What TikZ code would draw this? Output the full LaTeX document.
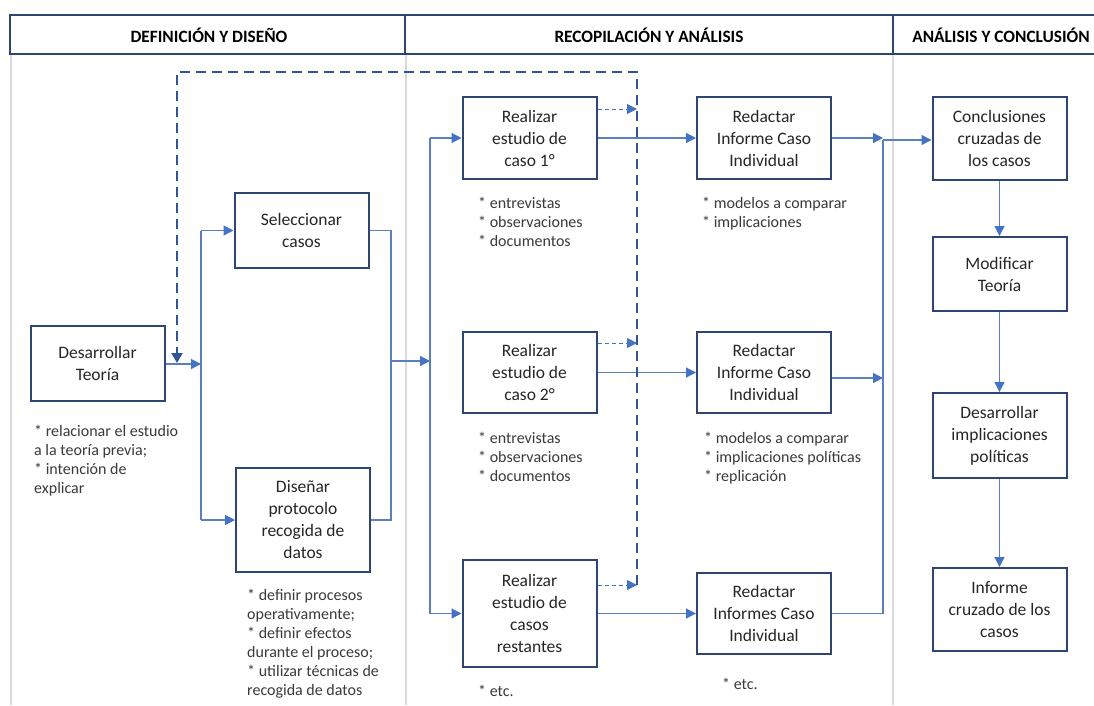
\documentclass[tikz,border=0pt]{standalone}
\usepackage{fontspec}
\setmainfont{Carlito}
\usetikzlibrary{arrows.meta}

\definecolor{navy}{HTML}{2E4472}
\definecolor{flowblue}{HTML}{5A7EC0}
\definecolor{tipblue}{HTML}{4472C4}
\definecolor{dashblue}{HTML}{2F5597}
\definecolor{colgray}{HTML}{D9D9D9}
\definecolor{boxtext}{HTML}{262626}
\definecolor{notetext}{HTML}{3A3A3A}

\begin{document}
\begin{tikzpicture}[x=1pt,y=-1pt,
  box/.style={draw=navy,line width=2pt,fill=white,align=center,text=boxtext,
    font=\fontsize{17.5}{22}\selectfont,inner sep=0pt,minimum width=134pt},
  flow/.style={draw=flowblue,line width=1.2pt},
  flowarrow/.style={flow,-{Triangle[length=10pt,width=10pt,color=tipblue]}},
  note/.style={anchor=north west,align=left,inner sep=0pt,text=notetext,
    font=\fontsize{16}{19}\selectfont},
  header/.style={font=\bfseries\fontsize{17.3}{20}\selectfont,text=black,inner sep=0pt},
  loopline/.style={draw=dashblue,line width=2.2pt,dash pattern=on 10pt off 6pt},
  feedback/.style={draw=tipblue,line width=1pt,dash pattern=on 4pt off 3pt,
    -{Triangle[length=10pt,width=10pt]}}]

% page
\fill[white] (0,0) rectangle (1094,705);
\useasboundingbox (0,0) rectangle (1094,705);

% column guides
\draw[colgray,line width=2.5pt] (11,54) -- (11,705);
\draw[colgray,line width=2.5pt] (406,54) -- (406,705);
\draw[colgray,line width=2.5pt] (893,54) -- (893,705);

% header band
\draw[navy,line width=2.5pt] (1094,15) -- (10,15) -- (10,54) -- (1094,54);
\draw[navy,line width=2.5pt] (405,15) -- (405,54);
\draw[navy,line width=2.5pt] (893,15) -- (893,54);
\node[header] (h1) at (209,35) {DEFINICIÓN Y DISEÑO};
\node[header] (h2) at (649,35) {RECOPILACIÓN Y ANÁLISIS};
\node[header] (h3) at (1001,35) {ANÁLISIS Y CONCLUSIÓN};

% process boxes
\node[box,minimum height=75pt] (T)  at (97.5,363.5) {Desarrollar\\Teoría};
\node[box,minimum height=75pt] (S)  at (301.5,230.5) {Seleccionar\\casos};
\node[box,minimum height=104pt] (Dp) at (303,520) {Diseñar\\protocolo\\recogida de\\datos};
\node[box,minimum height=82pt] (R1) at (529.5,138) {Realizar\\estudio de\\caso 1°};
\node[box,minimum height=81pt] (R2) at (529.5,372.5) {Realizar\\estudio de\\caso 2°};
\node[box,minimum height=107pt] (R3) at (529.5,613.5) {Realizar\\estudio de\\casos\\restantes};
\node[box,minimum height=82pt] (D1) at (764,138) {Redactar\\Informe Caso\\Individual};
\node[box,minimum height=81pt] (D2) at (764,372.5) {Redactar\\Informe Caso\\Individual};
\node[box,minimum height=81pt] (D3) at (764,613.5) {Redactar\\Informes Caso\\Individual};
\node[box,minimum height=83pt] (C1) at (999.5,138.5) {Conclusiones\\cruzadas de\\los casos};
\node[box,minimum height=74pt] (C2) at (999.5,274) {Modificar\\Teoría};
\node[box,minimum height=85pt] (C3) at (999.5,435.5) {Desarrollar\\implicaciones\\políticas};
\node[box,minimum height=83pt] (C4) at (999.5,609.5) {Informe\\cruzado de los\\casos};

% notes under the boxes
\node[note] (nT)  at (34,425) {* relacionar el estudio\\a la teoría previa;\\* intención de\\explicar};
\node[note] (nDp) at (247,589) {* definir procesos\\operativamente;\\* definir efectos\\durante el proceso;\\* utilizar técnicas de\\recogida de datos};
\node[note] (nR1) at (478,197) {* entrevistas\\* observaciones\\* documentos};
\node[note] (nR2) at (478,432) {* entrevistas\\* observaciones\\* documentos};
\node[note] (nR3) at (478,685) {* etc.};
\node[note] (nD1) at (702,197) {* modelos a comparar\\* implicaciones};
\node[note] (nD2) at (704,432) {* modelos a comparar\\* implicaciones políticas\\* replicación};
\node[note] (nD3) at (722,678) {* etc.};

% junction points
\coordinate (j1) at (201,364);
\coordinate (j2) at (391,361);
\coordinate (j3) at (430,361);
\coordinate (j4) at (883,140);

% definition and design
\draw[flowarrow] (T.east |- j1) -- (j1);
\draw[flow] (j1 |- S.west) -- (j1 |- Dp.west);
\draw[flowarrow] (j1 |- S.west) -- (S.west);
\draw[flowarrow] (j1 |- Dp.west) -- (Dp.west);
\draw[flow] (S.east) -- (S.east -| j2) -- (Dp.east -| j2) -- (Dp.east);
\draw[flowarrow] (j2) -- (j3);

% case studies
\draw[flow] (j3 |- R1.west) -- (j3 |- R3.west);
\draw[flowarrow] (j3 |- R1.west) -- (R1.west);
\draw[flowarrow] (j3 |- R3.west) -- (R3.west);
\draw[flowarrow] (R1.east) -- (D1.west);
\draw[flowarrow] (R2.east) -- (D2.west);
\draw[flowarrow] (R3.east) -- (D3.west);

% individual reports into cross-case analysis
\coordinate (d2out) at ([yshift=-5.5pt]D2.east);
\draw[flowarrow] (D1.east) -- (D1.east -| j4);
\draw[flowarrow] (d2out) -- (d2out -| j4);
\draw[flow] (D3.east) -- (D3.east -| j4) -- (j4);
\draw[flowarrow] (j4) -- (C1.west |- j4);
\draw[flowarrow] (C1.south) -- (C2.north);
\draw[flowarrow] (C2.south) -- (C3.north);
\draw[flowarrow] (C3.south) -- (C4.north);

% feedback loop back to theory
\coordinate (fb1) at ([yshift=29pt]R1.east);
\coordinate (fb2) at ([yshift=29.5pt]R2.east);
\coordinate (fb3) at ([yshift=28.5pt]R3.east);
\coordinate (loopA) at (637,585);
\coordinate (loopB) at (637,72);
\coordinate (loopC) at (177,72);
\coordinate (loopD) at (177,363);
\draw[feedback] (fb1) -- (fb1 -| loopA);
\draw[feedback] (fb2) -- (fb2 -| loopA);
\draw[feedback] (fb3) -- (fb3 -| loopA);
\draw[loopline,-{Triangle[length=10pt,width=11pt]}] (loopA) -- (loopB) -- (loopC) -- (loopD);
\end{tikzpicture}
\end{document}
